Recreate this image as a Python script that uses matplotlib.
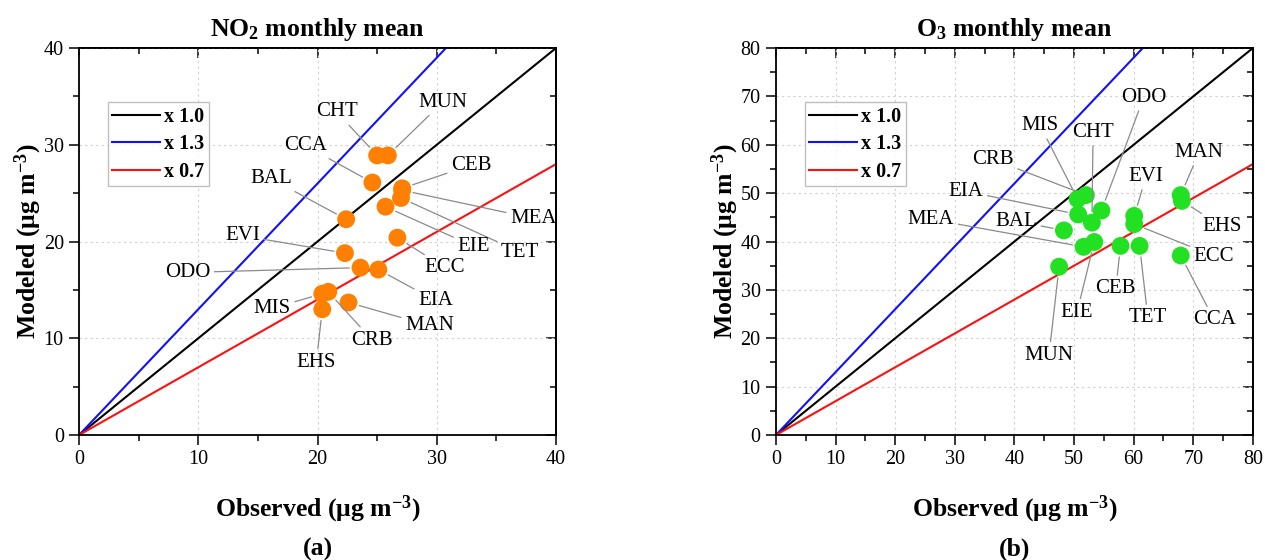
import matplotlib
matplotlib.use("Agg")
import matplotlib.pyplot as plt
from matplotlib.ticker import MultipleLocator, NullFormatter

# --- data ---
no2_sites = ["CHT", "MUN", "CCA", "CEB", "MEA", "TET", "EIE", "BAL",
             "ECC", "EVI", "ODO", "EIA", "MIS", "CRB", "MAN", "EHS"]
no2_obs = [25.0, 25.9, 24.6, 27.1, 27.1, 27.0, 25.7, 22.4,
           26.7, 22.3, 23.6, 25.1, 20.4, 20.9, 22.6, 20.4]
no2_mod = [28.9, 28.9, 26.1, 25.5, 25.3, 24.5, 23.6, 22.3,
           20.4, 18.8, 17.3, 17.1, 14.6, 14.8, 13.7, 13.0]

o3_sites = ["MIS", "CRB", "CHT", "ODO", "EIA", "BAL", "MEA", "EIE",
            "MUN", "CEB", "TET", "EVI", "ECC", "MAN", "EHS", "CCA"]
o3_obs = [50.6, 52.0, 53.0, 54.6, 50.7, 48.3, 51.6, 53.4,
          47.5, 57.8, 61.0, 60.1, 60.1, 67.9, 68.1, 67.9]
o3_mod = [48.8, 49.6, 43.9, 46.4, 45.6, 42.3, 38.9, 39.9,
          34.8, 39.1, 39.1, 45.3, 43.6, 49.6, 48.4, 37.1]

ratios = [1.0, 1.3, 0.7]
ratio_labels = ["x 1.0", "x 1.3", "x 0.7"]
ratio_colors = ["black", "#1010ff", "#ff1010"]

# label placement (data coords) for the leader lines
no2_text = {"CHT": (21.6, 33.4), "MUN": (30.5, 34.4), "CCA": (19.0, 29.9),
            "BAL": (16.1, 26.5), "CEB": (32.9, 27.9), "MEA": (38.1, 22.4),
            "TET": (37.0, 18.9), "EIE": (33.1, 19.5), "ECC": (30.7, 17.3),
            "EIA": (29.9, 13.9), "MAN": (29.4, 11.3), "CRB": (24.6, 9.8),
            "EHS": (19.9, 7.5), "MIS": (16.2, 13.1), "EVI": (13.7, 20.6),
            "ODO": (9.1, 16.8)}
o3_text = {"ODO": (61.7, 69.8), "MIS": (44.3, 64.0), "CHT": (53.2, 62.6),
           "MAN": (71.0, 58.5), "CRB": (36.4, 57.0), "EVI": (62.1, 53.5),
           "EIA": (31.9, 50.4), "MEA": (26.0, 44.6), "BAL": (40.3, 44.2),
           "EHS": (74.8, 43.1), "ECC": (73.5, 37.0), "CEB": (57.0, 30.2),
           "TET": (62.4, 24.2), "EIE": (50.5, 25.4), "CCA": (73.5, 23.8),
           "MUN": (45.8, 16.5)}

plt.rcParams["font.family"] = ["Liberation Serif", "DejaVu Serif"]
plt.rcParams["mathtext.fontset"] = "custom"
plt.rcParams["mathtext.rm"] = "Liberation Serif"
plt.rcParams["mathtext.bf"] = "Liberation Serif:bold"
plt.rcParams["mathtext.it"] = "Liberation Serif:italic"

fig = plt.figure(figsize=(12.65, 5.6), dpi=100)
ax1 = fig.add_axes([0.0625, 0.2232, 0.377, 0.691])
ax2 = fig.add_axes([0.6134, 0.2232, 0.377, 0.691])


def set_ticks(axis_obj):
    axis_obj.set_major_locator(MultipleLocator(10))
    axis_obj.set_minor_locator(MultipleLocator(5))


def draw_panel(ax, sites, obs, mod, text_pos, lim, color, title, panel):
    for k, lab, c in zip(ratios, ratio_labels, ratio_colors):
        ax.plot([0, lim], [0, k * lim], color=c, lw=1.5, label=lab, zorder=2)
    ax.scatter(obs, mod, s=165, color=color, edgecolors="none", zorder=3)
    for name, x, y in zip(sites, obs, mod):
        tx, ty = text_pos[name]
        ax.annotate(name, xy=(x, y), xytext=(tx, ty), ha="center", va="center",
                    fontsize=15,
                    arrowprops=dict(arrowstyle="-", color="#8a8a8a", lw=0.9,
                                    shrinkA=1, shrinkB=8))
    ax.set_xlim(0, lim)
    ax.set_ylim(0, lim)
    set_ticks(ax.xaxis)
    set_ticks(ax.yaxis)
    ax.tick_params(which="both", direction="out", labelsize=14.5, width=1.1,
                   pad=4)
    ax.tick_params(which="major", length=7)
    ax.tick_params(which="minor", length=4)

    # inward ticks on top and right, as in the original
    top = ax.secondary_xaxis("top")
    right = ax.secondary_yaxis("right")
    for sec, axis_obj in ((top, top.xaxis), (right, right.yaxis)):
        set_ticks(axis_obj)
        axis_obj.set_major_formatter(NullFormatter())
        sec.tick_params(which="both", direction="in", width=1.1)
        sec.tick_params(which="major", length=7)
        sec.tick_params(which="minor", length=4)
        for s in sec.spines.values():
            s.set_linewidth(1.3)

    ax.grid(True, which="major", ls=(0, (2, 3)), color="#d0d0d0", lw=0.8)
    for s in ax.spines.values():
        s.set_linewidth(1.3)
    ax.set_title(title, fontsize=18.5, fontweight="bold", pad=9)
    ax.set_xlabel(r"Observed (μg m$^{\mathbf{-3}}$)", fontsize=18.5,
                  fontweight="bold")
    ax.set_ylabel(r"Modeled (μg m$^{\mathbf{-3}}$)", fontsize=18.5,
                  fontweight="bold")
    ax.xaxis.set_label_coords(0.5, -0.152)
    ax.yaxis.set_label_coords(-0.073, 0.5)
    ax.text(0.5, -0.295, panel, transform=ax.transAxes, ha="center",
            va="center", fontsize=18.5, fontweight="bold")
    leg = ax.legend(loc="upper left", bbox_to_anchor=(0.06, 0.86),
                    borderaxespad=0, fancybox=False, edgecolor="#b0b0b0",
                    handlelength=2.4, handletextpad=0.2, labelspacing=0.38,
                    borderpad=0.22,
                    prop={"weight": "bold", "size": 14.5})
    leg.get_frame().set_linewidth(1.0)


draw_panel(ax1, no2_sites, no2_obs, no2_mod, no2_text, 40, "#ff8000",
           r"NO$_{\mathbf{2}}$ monthly mean", "(a)")
draw_panel(ax2, o3_sites, o3_obs, o3_mod, o3_text, 80, "#22e022",
           r"O$_{\mathbf{3}}$ monthly mean", "(b)")

fig.savefig("out.png", dpi=100)
